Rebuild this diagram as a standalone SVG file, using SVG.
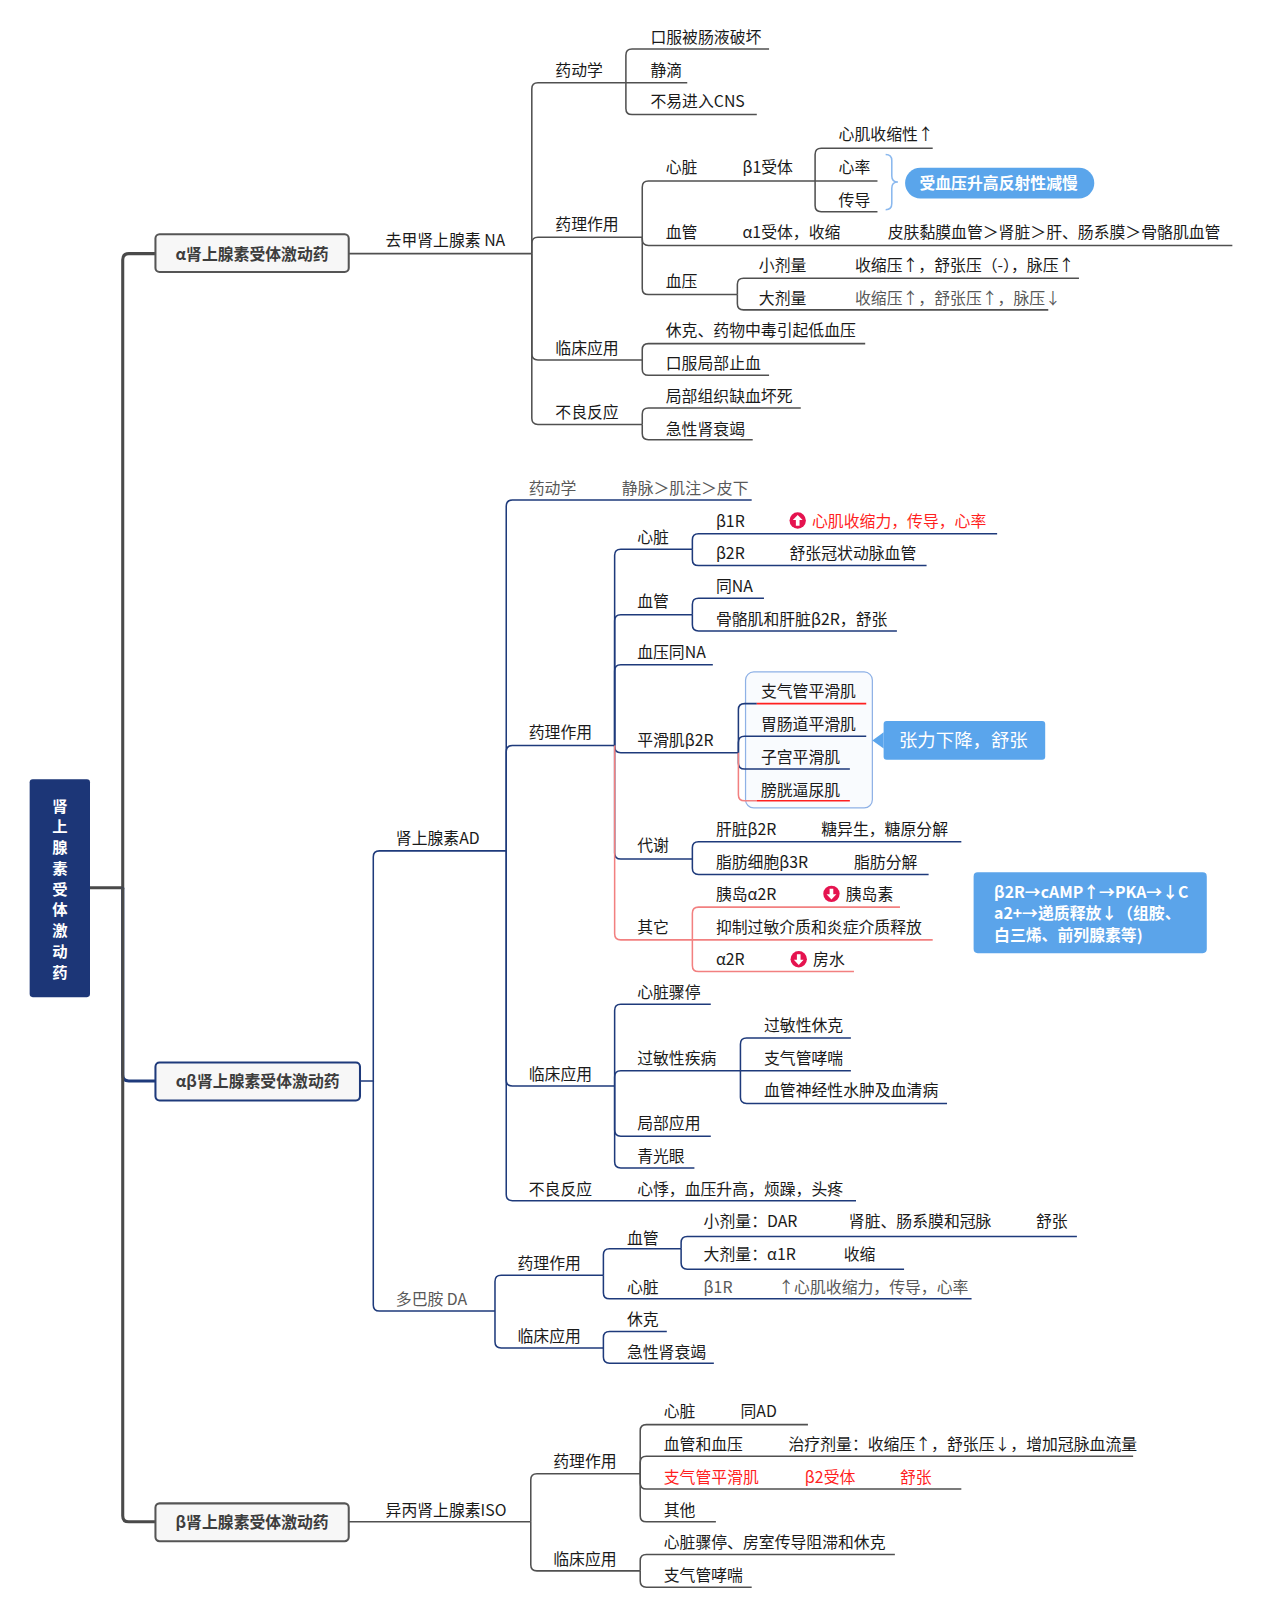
<svg xmlns="http://www.w3.org/2000/svg" width="1261" height="1602" viewBox="0 0 1261 1602">
<style>
.t{font-family:"Noto Sans CJK SC","Noto Sans",sans-serif;font-size:15.5px;fill:#1a1a1a}
.g{fill:#595959}
.r{fill:#ff1f1f}
.w{fill:#fff}
.b{font-weight:bold}
.cg{fill:none;stroke:#505050;stroke-width:1.5}
.cn{fill:none;stroke:#1e3a7b;stroke-width:1.5}
.cp{fill:none;stroke:#f28080;stroke-width:1.5}
.cr{fill:none;stroke:#ff2020;stroke-width:1.5}
.tk{fill:none;stroke:#4a4a4a;stroke-width:3}
.tkn{fill:none;stroke:#1e3a7b;stroke-width:3}
.box{fill:#f7f7f7;stroke:#555;stroke-width:2}
.boxn{fill:#f7f7f7;stroke:#1e3a7b;stroke-width:2}
.bt{font-family:"Noto Sans CJK SC","Noto Sans",sans-serif;font-size:15.5px;font-weight:bold;fill:#3d3d3d;text-anchor:middle}
</style>
<defs>
<g id="iu"><circle r="8" fill="#e5134f"/><path d="M0,-5.5 L4.8,-0.5 H1.8 V5 H-1.8 V-0.5 H-4.8 Z" fill="#fff"/></g>
<g id="idn"><circle r="8" fill="#e5134f"/><path d="M0,5.5 L4.8,0.5 H1.8 V-5 H-1.8 V0.5 H-4.8 Z" fill="#fff"/></g>
</defs>
<rect width="1261" height="1602" fill="#fff"/>
<g transform="scale(1.0227)">

<g id="boundary">
<rect x="729" y="657" width="124" height="133" rx="8" fill="#f9fbfe" stroke="#8eb1e6" stroke-width="1.2"/>
</g>

<g id="connectors">
<path class="tk" d="M88,868 H120 V254 Q120,248 126,248 H152"/>
<path class="tkn" d="M120,868 V1051 Q120,1057 126,1057 H152"/>
<path class="tk" d="M120,868 V1482 Q120,1488 126,1488 H152"/>

<path class="cg" d="M341,248 H520"/>
<path class="cg" d="M520,248 V87 Q520,81 526,81 H612"/>
<path class="cg" d="M612,81 V54 Q612,48 618,48 H752"/>
<path class="cg" d="M612,81 H672"/>
<path class="cg" d="M612,81 V106 Q612,112 618,112 H740"/>
<path class="cg" d="M520,248 V238 Q520,232 526,232 H628"/>
<path class="cg" d="M628,232 V183 Q628,177 634,177 H797"/>
<path class="cg" d="M797,177 V151 Q797,145 803,145 H912"/>
<path class="cg" d="M797,177 H858"/>
<path class="cg" d="M797,177 V201 Q797,207 803,207 H858"/>
<path class="cg" d="M628,232 V234 Q628,240 634,240 H1205"/>
<path class="cg" d="M628,232 V282 Q628,288 634,288 H721"/>
<path class="cg" d="M721,288 V278 Q721,272 727,272 H1055"/>
<path class="cg" d="M721,288 V297 Q721,303 727,303 H1025"/>
<path class="cg" d="M520,248 V346 Q520,352 526,352 H628"/>
<path class="cg" d="M628,352 V342 Q628,336 634,336 H846"/>
<path class="cg" d="M628,352 V361 Q628,367 634,367 H752"/>
<path class="cg" d="M520,248 V409 Q520,415 526,415 H628"/>
<path class="cg" d="M628,415 V405 Q628,399 634,399 H783"/>
<path class="cg" d="M628,415 V424 Q628,430 634,430 H736"/>

<path class="cn" d="M352,1057 H365 V838 Q365,832 371,832 H495"/>
<path class="cn" d="M365,1057 V1276 Q365,1282 371,1282 H484"/>
<path class="cn" d="M495,832 V495 Q495,489 501,489 H735"/>
<path class="cn" d="M495,832 V735 Q495,729 501,729 H601"/>
<path class="cn" d="M601,729 V543 Q601,537 607,537 H677"/>
<path class="cn" d="M677,537 V528 Q677,522 683,522 H975"/>
<path class="cn" d="M677,537 V547 Q677,553 683,553 H906"/>
<path class="cn" d="M601,729 V607 Q601,601 607,601 H677"/>
<path class="cn" d="M677,601 V591 Q677,585 683,585 H747"/>
<path class="cn" d="M677,601 V611 Q677,617 683,617 H877"/>
<path class="cn" d="M601,729 V656 Q601,650 607,650 H697"/>
<path class="cn" d="M601,729 V730 Q601,736 607,736 H722"/>
<path class="cn" d="M722,736 V694 Q722,688 728,688 H740"/>
<path class="cr" d="M740,688 H847"/>
<path class="cn" d="M722,736 V726 Q722,720 728,720 H847"/>
<path class="cn" d="M722,736 V746 Q722,752 728,752 H831"/>
<path class="cp" d="M722,736 V777 Q722,783 728,783 H740"/>
<path class="cr" d="M740,783 H831"/>
<path class="cn" d="M601,729 V834 Q601,840 607,840 H677"/>
<path class="cn" d="M677,840 V829 Q677,823 683,823 H940"/>
<path class="cn" d="M677,840 V849 Q677,855 683,855 H908"/>
<path class="cp" d="M601,729 V913 Q601,919 607,919 H677"/>
<path class="cp" d="M677,919 V893 Q677,887 683,887 H880"/>
<path class="cp" d="M677,919 H912"/>
<path class="cp" d="M677,919 V944 Q677,950 683,950 H835"/>
<path class="cn" d="M495,832 V1056 Q495,1062 501,1062 H601"/>
<path class="cn" d="M601,1062 V988 Q601,982 607,982 H695"/>
<path class="cn" d="M601,1062 V1053 Q601,1047 607,1047 H724"/>
<path class="cn" d="M724,1047 V1021 Q724,1015 730,1015 H832"/>
<path class="cn" d="M724,1047 H832"/>
<path class="cn" d="M724,1047 V1073 Q724,1079 730,1079 H926"/>
<path class="cn" d="M601,1062 V1105 Q601,1111 607,1111 H695"/>
<path class="cn" d="M601,1062 V1136 Q601,1142 607,1142 H679"/>
<path class="cn" d="M495,832 V1168 Q495,1174 501,1174 H837"/>
<path class="cn" d="M484,1282 V1253 Q484,1247 490,1247 H590"/>
<path class="cn" d="M590,1247 V1227 Q590,1221 596,1221 H666"/>
<path class="cn" d="M666,1221 V1215 Q666,1209 672,1209 H1053"/>
<path class="cn" d="M666,1221 V1235 Q666,1241 672,1241 H884"/>
<path class="cn" d="M590,1247 V1264 Q590,1270 596,1270 H950"/>
<path class="cn" d="M484,1282 V1312 Q484,1318 490,1318 H590"/>
<path class="cn" d="M590,1318 V1308 Q590,1302 596,1302 H652"/>
<path class="cn" d="M590,1318 V1327 Q590,1333 596,1333 H698"/>

<path class="cg" d="M341,1488 H519"/>
<path class="cg" d="M519,1488 V1447 Q519,1441 525,1441 H626"/>
<path class="cg" d="M626,1441 V1399 Q626,1393 632,1393 H790"/>
<path class="cg" d="M626,1441 V1430 Q626,1424 632,1424 H1108"/>
<path class="cg" d="M626,1441 V1450 Q626,1456 632,1456 H940"/>
<path class="cg" d="M626,1441 V1482 Q626,1488 632,1488 H700"/>
<path class="cg" d="M519,1488 V1530 Q519,1536 525,1536 H626"/>
<path class="cg" d="M626,1536 V1526 Q626,1520 632,1520 H875"/>
<path class="cg" d="M626,1536 V1546 Q626,1552 632,1552 H735"/>

<path d="M866,151 Q872,151 872,157 V172 Q872,178 878,178 Q872,178 872,184 V199 Q872,205 866,205" fill="none" stroke="#8ab8ee" stroke-width="1.5"/>
</g>

<g id="title">
<rect x="29" y="762" width="59" height="213" rx="3" fill="#1c3677"/>
<text class="t b w" text-anchor="middle" style="font-size:15px"><tspan x="58.5" y="793.5">肾</tspan><tspan x="58.5" y="813.8">上</tspan><tspan x="58.5" y="834.1">腺</tspan><tspan x="58.5" y="854.4">素</tspan><tspan x="58.5" y="874.7">受</tspan><tspan x="58.5" y="895">体</tspan><tspan x="58.5" y="915.3">激</tspan><tspan x="58.5" y="935.6">动</tspan><tspan x="58.5" y="955.9">药</tspan></text>
</g>
<g id="n-alpha"><rect class="box" x="152" y="229" width="189" height="37" rx="4"/><text class="bt" x="246.5" y="254">α肾上腺素受体激动药</text></g>
<g id="n-ab"><rect class="boxn" x="152" y="1039" width="200" height="37" rx="4"/><text class="bt" x="252" y="1063">αβ肾上腺素受体激动药</text></g>
<g id="n-beta"><rect class="box" x="152" y="1470" width="189" height="37" rx="4"/><text class="bt" x="246.5" y="1494">β肾上腺素受体激动药</text></g>

<g id="n-na"><text class="t" x="377" y="241">去甲肾上腺素 NA</text></g>
<g id="n-na-pk"><text class="t" x="543" y="74">药动学</text></g>
<g id="n-na-pk1"><text class="t" x="636" y="42">口服被肠液破坏</text></g>
<g id="n-na-pk2"><text class="t" x="636" y="74">静滴</text></g>
<g id="n-na-pk3"><text class="t" x="636" y="105">不易进入CNS</text></g>
<g id="n-na-pd"><text class="t" x="543" y="225">药理作用</text></g>
<g id="n-na-heart"><text class="t" x="651" y="169">心脏</text><text class="t" x="726" y="169">β1受体</text></g>
<g id="n-na-h1"><text class="t" x="820" y="137">心肌收缩性↑</text></g>
<g id="n-na-h2"><text class="t" x="820" y="169">心率</text></g>
<g id="n-na-h3"><text class="t" x="820" y="201">传导</text></g>
<g id="n-na-reflex"><rect x="885" y="164" width="185" height="30" rx="15" fill="#5aa5eb"/><text class="t b w" x="899" y="185">受血压升高反射性减慢</text></g>
<g id="n-na-vessel"><text class="t" x="651" y="233">血管</text><text class="t" x="726" y="233">α1受体，收缩</text><text class="t" x="868" y="233">皮肤黏膜血管＞肾脏＞肝、肠系膜＞骨骼肌血管</text></g>
<g id="n-na-bp"><text class="t" x="651" y="281">血压</text></g>
<g id="n-na-bp1"><text class="t" x="742" y="265">小剂量</text><text class="t" x="836" y="265">收缩压↑，舒张压（-），脉压↑</text></g>
<g id="n-na-bp2"><text class="t" x="742" y="297">大剂量</text><text class="t g" x="836" y="297">收缩压↑，舒张压↑，脉压↓</text></g>
<g id="n-na-cl"><text class="t" x="543" y="346">临床应用</text></g>
<g id="n-na-cl1"><text class="t" x="651" y="329">休克、药物中毒引起低血压</text></g>
<g id="n-na-cl2"><text class="t" x="651" y="361">口服局部止血</text></g>
<g id="n-na-ae"><text class="t" x="543" y="409">不良反应</text></g>
<g id="n-na-ae1"><text class="t" x="651" y="393">局部组织缺血坏死</text></g>
<g id="n-na-ae2"><text class="t" x="651" y="425">急性肾衰竭</text></g>

<g id="n-ad"><text class="t" x="387" y="825">肾上腺素AD</text></g>
<g id="n-ad-pk"><text class="t g" x="517" y="483">药动学</text><text class="t g" x="608" y="483">静脉＞肌注＞皮下</text></g>
<g id="n-ad-pd"><text class="t" x="517" y="722">药理作用</text></g>
<g id="n-ad-heart"><text class="t" x="623" y="531">心脏</text></g>
<g id="n-ad-b1"><text class="t" x="700" y="515">β1R</text><use href="#iu" x="780" y="509"/><text class="t r" x="794" y="515">心肌收缩力，传导，心率</text></g>
<g id="n-ad-b2"><text class="t" x="700" y="547">β2R</text><text class="t" x="772" y="547">舒张冠状动脉血管</text></g>
<g id="n-ad-vessel"><text class="t" x="623" y="594">血管</text></g>
<g id="n-ad-v1"><text class="t" x="700" y="579">同NA</text></g>
<g id="n-ad-v2"><text class="t" x="700" y="611">骨骼肌和肝脏β2R，舒张</text></g>
<g id="n-ad-bp"><text class="t" x="623" y="643">血压同NA</text></g>
<g id="n-ad-sm"><text class="t" x="623" y="729">平滑肌β2R</text></g>
<g id="n-ad-sm1"><text class="t" x="744" y="682">支气管平滑肌</text></g>
<g id="n-ad-sm2"><text class="t" x="744" y="714">胃肠道平滑肌</text></g>
<g id="n-ad-sm3"><text class="t" x="744" y="746">子宫平滑肌</text></g>
<g id="n-ad-sm4"><text class="t" x="744" y="778">膀胱逼尿肌</text></g>
<g id="n-ad-relax"><path d="M864,716 L853,724 L864,732 Z" fill="#5aa5ec"/><rect x="864" y="705" width="158" height="38" rx="3" fill="#5aa5ec"/><text class="t w" x="879" y="730" style="font-size:18px">张力下降，舒张</text></g>
<g id="n-ad-met"><text class="t" x="623" y="832">代谢</text></g>
<g id="n-ad-met1"><text class="t" x="700" y="816">肝脏β2R</text><text class="t" x="803" y="816">糖异生，糖原分解</text></g>
<g id="n-ad-met2"><text class="t" x="700" y="849">脂肪细胞β3R</text><text class="t" x="835" y="849">脂肪分解</text></g>
<g id="n-ad-oth"><text class="t" x="623" y="912">其它</text></g>
<g id="n-ad-oth1"><text class="t" x="700" y="880">胰岛α2R</text><use href="#idn" x="813" y="874"/><text class="t" x="827" y="880">胰岛素</text></g>
<g id="n-ad-oth2"><text class="t" x="700" y="912">抑制过敏介质和炎症介质释放</text></g>
<g id="n-ad-oth3"><text class="t" x="700" y="944">α2R</text><use href="#idn" x="781" y="938"/><text class="t" x="795" y="944">房水</text></g>
<g id="n-ad-note"><rect x="952" y="853" width="228" height="79" rx="4" fill="#5ba4ea"/><text class="t b w"><tspan x="972" y="878">β2R→cAMP↑→PKA→↓C</tspan><tspan x="972" y="899">a2+→递质释放↓（组胺、</tspan><tspan x="972" y="920">白三烯、前列腺素等)</tspan></text></g>
<g id="n-ad-cl"><text class="t" x="517" y="1056">临床应用</text></g>
<g id="n-ad-cl1"><text class="t" x="623" y="976">心脏骤停</text></g>
<g id="n-ad-cl2"><text class="t" x="623" y="1040">过敏性疾病</text></g>
<g id="n-ad-cl2a"><text class="t" x="747" y="1008">过敏性休克</text></g>
<g id="n-ad-cl2b"><text class="t" x="747" y="1040">支气管哮喘</text></g>
<g id="n-ad-cl2c"><text class="t" x="747" y="1072">血管神经性水肿及血清病</text></g>
<g id="n-ad-cl3"><text class="t" x="623" y="1104">局部应用</text></g>
<g id="n-ad-cl4"><text class="t" x="623" y="1136">青光眼</text></g>
<g id="n-ad-ae"><text class="t" x="517" y="1168">不良反应</text><text class="t" x="623" y="1168">心悸，血压升高，烦躁，头疼</text></g>

<g id="n-da"><text class="t g" x="387" y="1276">多巴胺 DA</text></g>
<g id="n-da-pd"><text class="t" x="506" y="1241">药理作用</text></g>
<g id="n-da-vessel"><text class="t" x="613" y="1216">血管</text></g>
<g id="n-da-v1"><text class="t" x="688" y="1200">小剂量：DAR</text><text class="t" x="830" y="1200">肾脏、肠系膜和冠脉</text><text class="t" x="1013" y="1200">舒张</text></g>
<g id="n-da-v2"><text class="t" x="688" y="1232">大剂量：α1R</text><text class="t" x="825" y="1232">收缩</text></g>
<g id="n-da-heart"><text class="t" x="613" y="1264">心脏</text><text class="t g" x="688" y="1264">β1R</text><text class="t g" x="761" y="1264">↑心肌收缩力，传导，心率</text></g>
<g id="n-da-cl"><text class="t" x="506" y="1312">临床应用</text></g>
<g id="n-da-cl1"><text class="t" x="613" y="1296">休克</text></g>
<g id="n-da-cl2"><text class="t" x="613" y="1328">急性肾衰竭</text></g>

<g id="n-iso"><text class="t" x="377" y="1482">异丙肾上腺素ISO</text></g>
<g id="n-iso-pd"><text class="t" x="541" y="1434">药理作用</text></g>
<g id="n-iso-1"><text class="t" x="649" y="1386">心脏</text><text class="t" x="724" y="1386">同AD</text></g>
<g id="n-iso-2"><text class="t" x="649" y="1418">血管和血压</text><text class="t" x="771" y="1418">治疗剂量：收缩压↑，舒张压↓，增加冠脉血流量</text></g>
<g id="n-iso-3"><text class="t r" x="649" y="1450">支气管平滑肌</text><text class="t r" x="787" y="1450">β2受体</text><text class="t r" x="880" y="1450">舒张</text></g>
<g id="n-iso-4"><text class="t" x="649" y="1482">其他</text></g>
<g id="n-iso-cl"><text class="t" x="541" y="1530">临床应用</text></g>
<g id="n-iso-cl1"><text class="t" x="649" y="1514">心脏骤停、房室传导阻滞和休克</text></g>
<g id="n-iso-cl2"><text class="t" x="649" y="1546">支气管哮喘</text></g>
</g>
</svg>
